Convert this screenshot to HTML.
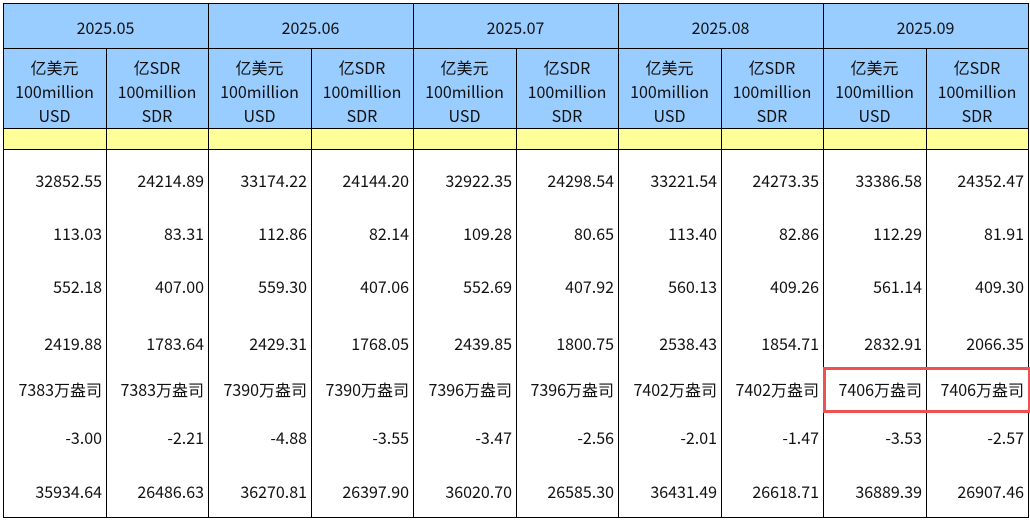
<!DOCTYPE html>
<html><head><meta charset="utf-8"><style>
body{margin:0;width:1030px;height:520px;background:#fff;position:relative;overflow:hidden;font-family:"Noto Sans CJK SC","Liberation Sans",sans-serif;font-size:16px;color:#111}
.a{position:absolute}
.h{background:#99ccff}
.y{background:#ffff99}
.v{position:absolute;width:1px;background:#000}
.hl{position:absolute;height:1px;background:#000;left:3px;width:1026px}
.c{position:absolute;text-align:center;line-height:24px;width:102px}
.t{position:absolute;text-align:right;width:96px;line-height:20px;white-space:nowrap}
</style></head><body>
<div class="a h" style="left:3px;top:3px;width:1026px;height:125px"></div>
<div class="a y" style="left:3px;top:128px;width:1026px;height:21px"></div>
<div class="hl" style="top:3px"></div>
<div class="hl" style="top:48px"></div>
<div class="hl" style="top:128px"></div>
<div class="hl" style="top:149px"></div>
<div class="hl" style="top:517px"></div>
<div id="g"></div>
<div class="a" style="left:823px;top:367px;width:202px;height:40px;border:3px solid #f05050"></div>
<script>
var X=[3,106,208,311,413,516,618,721,823,926,1028];
var h='';
X.forEach(function(x,i){var top=(i%2==0)?3:48;h+='<div class="v" style="left:'+x+'px;top:'+top+'px;height:'+(518-top)+'px"></div>';});
var m=['2025.05','2025.06','2025.07','2025.08','2025.09'];
m.forEach(function(s,i){h+='<div class="c" style="left:'+X[2*i]+'px;width:'+(X[2*i+2]-X[2*i])+'px;top:15px">'+s+'</div>';});
for(var i=0;i<10;i++){var t=i%2==0?'亿美元<br>100million<br>USD':'亿SDR<br>100million<br>SDR';h+='<div class="c" style="left:'+X[i]+'px;width:'+(X[i+1]-X[i])+'px;top:55px">'+t+'</div>';}
var d=[
['32852.55','24214.89','33174.22','24144.20','32922.35','24298.54','33221.54','24273.35','33386.58','24352.47'],
['113.03','83.31','112.86','82.14','109.28','80.65','113.40','82.86','112.29','81.91'],
['552.18','407.00','559.30','407.06','552.69','407.92','560.13','409.26','561.14','409.30'],
['2419.88','1783.64','2429.31','1768.05','2439.85','1800.75','2538.43','1854.71','2832.91','2066.35'],
['7383万盎司','7383万盎司','7390万盎司','7390万盎司','7396万盎司','7396万盎司','7402万盎司','7402万盎司','7406万盎司','7406万盎司'],
['-3.00','-2.21','-4.88','-3.55','-3.47','-2.56','-2.01','-1.47','-3.53','-2.57'],
['35934.64','26486.63','36270.81','26397.90','36020.70','26585.30','36431.49','26618.71','36889.39','26907.46']];
var Y=[180,233,286,343,389,437,491];
d.forEach(function(r,j){r.forEach(function(v,i){h+='<div class="t" style="left:'+(X[i+1]-100)+'px;top:'+(Y[j]-10)+'px">'+v+'</div>';});});
document.getElementById('g').innerHTML=h;
</script>
</body></html>
